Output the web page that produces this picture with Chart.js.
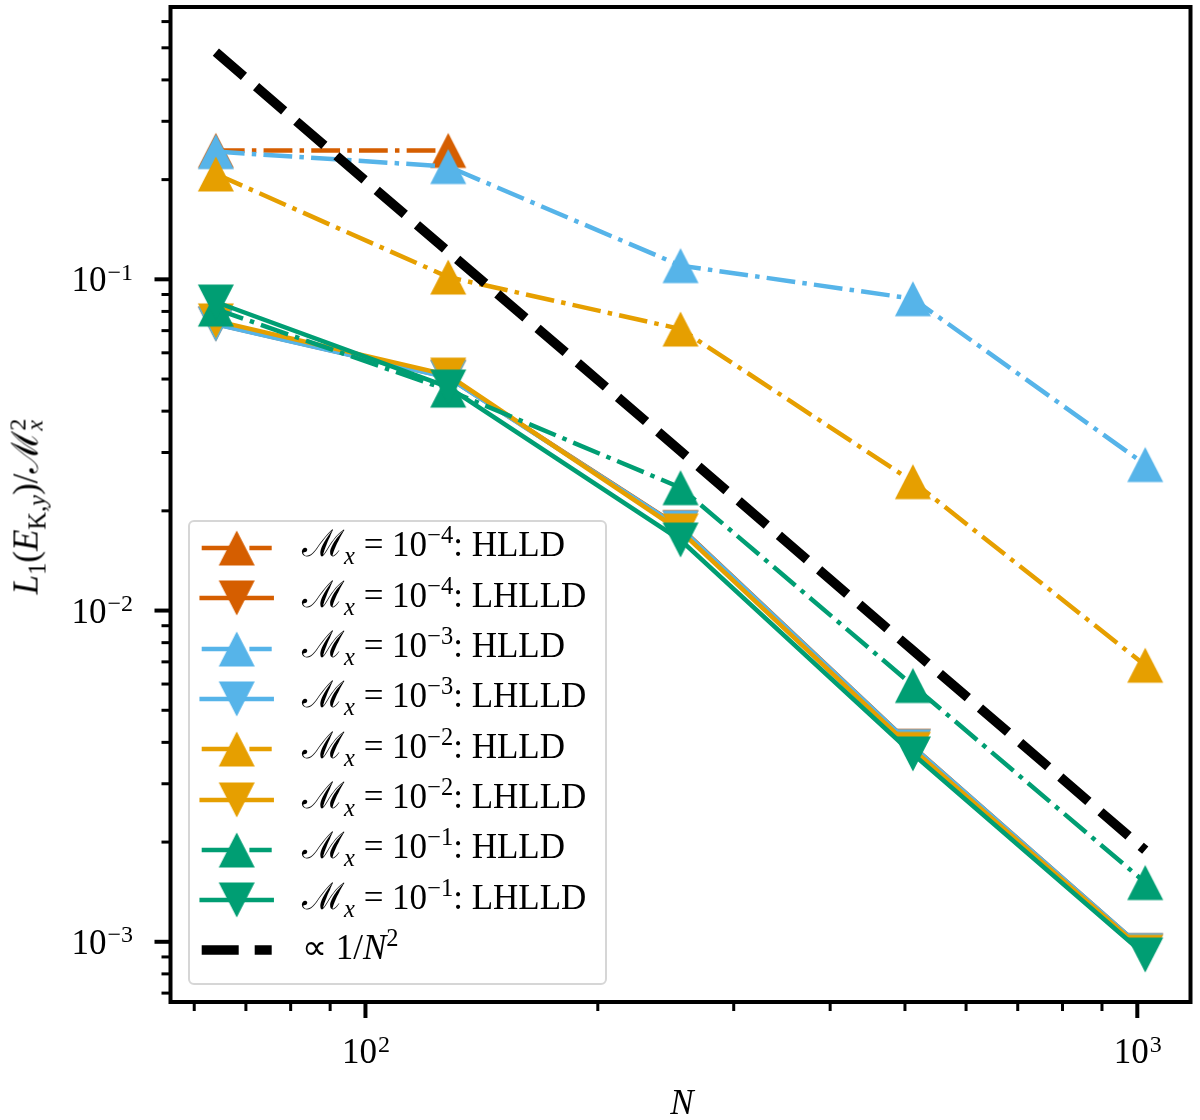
<!DOCTYPE html>
<html>
<head>
<meta charset="utf-8">
<script src="https://cdn.jsdelivr.net/npm/chart.js@4.4.1/dist/chart.umd.min.js"></script>
<style>
  html, body { margin: 0; padding: 0; background: #fff; overflow: hidden; }
  #wrap { position: relative; width: 1200px; height: 1120px; overflow: hidden;
          font-family: "Liberation Serif", "Times New Roman", serif; color: #000; }
  #chart { position: absolute; left: 0; top: 0; }
  .txt { position: absolute; font-size: 35px; line-height: 35px; white-space: nowrap; }
  .txt sub, .txt sup { font-size: 0.7em; line-height: 0; }
  .cal { font-size: 1.05em; line-height: 0; }
  #legendBox { position: absolute; left: 188px; top: 520px; width: 415px; height: 461px;
               border: 2px solid #d6d6d6; border-radius: 6px; background: rgba(255,255,255,0.8); }
  .handle { position: absolute; left: 190px; }
  .ss { position: relative; display: inline-block; width: 16px; height: 35px; }
  .ss .sp, .ss .sb { position: absolute; left: 1px; font-size: 24px; line-height: 24px; }
  .ss .sp { top: 3px; }
  .ss .sb { top: 20px; }
</style>
</head>
<body>
<div id="wrap">
  <canvas id="chart" width="1200" height="1120"></canvas>
  <div id="legendBox"></div>
</div>
<script>
// grid sizes (N) and errors
const N = [64, 128, 256, 512, 1024];

const hlld_m4  = [0.245, 0.245];
const lhlld_m4 = [0.0733, 0.0506, 0.0178, 0.00389, 0.00094];
const hlld_m3  = [0.243, 0.219, 0.110, 0.0874, 0.0276];
const lhlld_m3 = [0.0732, 0.0505, 0.01775, 0.00388, 0.00094];
const hlld_m2  = [0.208, 0.1016, 0.0708, 0.0245, 0.00684];
const lhlld_m2 = [0.0749, 0.0514, 0.01738, 0.00381, 0.00093];
const hlld_m1  = [0.0813, 0.0463, 0.0235, 0.00594, 0.00151];
const lhlld_m1 = [0.0854, 0.0473, 0.01633, 0.00369, 0.000912];
const refN2    = [0.485, 0.1212, 0.0303, 0.00758, 0.00189];

const machExp = ['−4', '−4', '−3', '−3', '−2', '−2', '−1', '−1'];
const solver  = ['HLLD', 'LHLLD', 'HLLD', 'LHLLD', 'HLLD', 'LHLLD', 'HLLD', 'LHLLD'];

// ticks
const xMajor = [100, 1000];
const xMajorExp = ['2', '3'];
const xMinor = [60, 70, 80, 90, 200, 300, 400, 500, 600, 700, 800, 900];
const yMajor = [0.001, 0.01, 0.1];
const yMajorExp = ['−3', '−2', '−1'];
const yMinor = [0.0007, 0.0008, 0.0009, 0.002, 0.003, 0.004, 0.005, 0.006, 0.007, 0.008, 0.009,
                0.02, 0.03, 0.04, 0.05, 0.06, 0.07, 0.08, 0.09, 0.2, 0.3, 0.4, 0.5, 0.6];

const VERM = '#D55E00', BLUE = '#56B4E9', ORNG = '#E69F00', GRN = '#009E73';
const LW = 4.5;
const DASHDOT = [6.4 * LW, 1.6 * LW, LW, 1.6 * LW];
const REFDASH = [37, 16];

function triangle(color, down) {
  const c = document.createElement('canvas');
  c.width = 38; c.height = 38;
  const g = c.getContext('2d');
  g.fillStyle = color;
  g.beginPath();
  if (down) { g.moveTo(19, 36.5); g.lineTo(1, 1.5); g.lineTo(37, 1.5); }
  else { g.moveTo(19, 1.5); g.lineTo(1, 36.5); g.lineTo(37, 36.5); }
  g.closePath();
  g.fill();
  return c;
}

const pts = vals => vals.map((v, i) => ({ x: N[i], y: v }));

const series = [
  { vals: hlld_m4,  color: VERM, down: false },
  { vals: lhlld_m4, color: VERM, down: true },
  { vals: hlld_m3,  color: BLUE, down: false },
  { vals: lhlld_m3, color: BLUE, down: true },
  { vals: hlld_m2,  color: ORNG, down: false },
  { vals: lhlld_m2, color: ORNG, down: true },
  { vals: hlld_m1,  color: GRN,  down: false },
  { vals: lhlld_m1, color: GRN,  down: true }
];

const datasets = series.map((s, k) => {
  s.marker = triangle(s.color, s.down);
  return {
    label: 'M=10' + machExp[k] + ': ' + solver[k],
    data: pts(s.vals),
    borderColor: s.color,
    backgroundColor: s.color,
    borderWidth: LW,
    borderDash: s.down ? [] : DASHDOT,
    borderCapStyle: s.down ? 'square' : 'butt',
    pointStyle: s.marker,
    pointRadius: 18,
    order: 20 - k
  };
});
datasets.push({
  label: '∝ 1/N^2',
  data: pts(refN2),
  borderColor: '#000',
  borderWidth: 9.5,
  borderDash: REFDASH,
  pointRadius: 0,
  order: 1
});

// frame, tick marks and tick labels, placed with the chart's own scales
const axesDeco = {
  id: 'axesDeco',
  afterDraw(chart) {
    const { ctx, chartArea: a, scales: { x, y } } = chart;
    ctx.save();
    ctx.strokeStyle = '#000';
    ctx.fillStyle = '#000';
    const xt = (v, len, w) => {
      const px = x.getPixelForValue(v);
      ctx.lineWidth = w;
      ctx.beginPath(); ctx.moveTo(px, a.bottom); ctx.lineTo(px, a.bottom + len); ctx.stroke();
    };
    const yt = (v, len, w) => {
      const py = y.getPixelForValue(v);
      ctx.lineWidth = w;
      ctx.beginPath(); ctx.moveTo(a.left, py); ctx.lineTo(a.left - len, py); ctx.stroke();
    };
    xMinor.forEach(v => xt(v, 9, 3));
    yMinor.forEach(v => yt(v, 9, 3));
    xMajor.forEach(v => xt(v, 16, 4));
    yMajor.forEach(v => yt(v, 16, 4));

    ctx.lineWidth = 4;
    ctx.strokeRect(a.left, a.top, a.right - a.left, a.bottom - a.top);

    const big = '35px "Liberation Serif"', small = '24px "Liberation Serif"';
    ctx.textBaseline = 'alphabetic';
    xMajor.forEach((v, i) => {
      const px = x.getPixelForValue(v);
      ctx.font = big; const w1 = ctx.measureText('10').width;
      ctx.font = small; const w2 = ctx.measureText(xMajorExp[i]).width;
      const x0 = px - (w1 + w2) / 2;
      ctx.textAlign = 'left';
      ctx.font = big; ctx.fillText('10', x0, a.bottom + 61);
      ctx.font = small; ctx.fillText(xMajorExp[i], x0 + w1 + 1, a.bottom + 50);
    });
    yMajor.forEach((v, i) => {
      const py = y.getPixelForValue(v);
      ctx.textAlign = 'right';
      ctx.font = small; const w2 = ctx.measureText(yMajorExp[i]).width;
      ctx.fillText(yMajorExp[i], 133, py + 0.5);
      ctx.font = big; ctx.fillText('10', 133 - w2 - 1, py + 12);
    });
    ctx.restore();
  }
};

new Chart(document.getElementById('chart'), {
  type: 'line',
  data: { datasets },
  options: {
    responsive: false,
    animation: false,
    events: [],
    layout: { autoPadding: false, padding: { left: 170.5, top: 7, right: 9.5, bottom: 118 } },
    scales: {
      x: { type: 'logarithmic', min: 55.9, max: 1172, display: false },
      y: { type: 'logarithmic', min: 0.000658, max: 0.664, display: false }
    },
    plugins: { legend: { display: false }, tooltip: { enabled: false } }
  },
  plugins: [axesDeco]
});

// legend and axis titles as html text
const wrap = document.getElementById('wrap');
function addText(html, left, top, extra) {
  const d = document.createElement('div');
  d.className = 'txt';
  d.innerHTML = html;
  d.style.left = left + 'px';
  d.style.top = top + 'px';
  if (extra) d.style.transform = extra;
  wrap.appendChild(d);
  return d;
}

const rowY = k => 548 + 50.3 * k;
function addHandle(k, color, dash, width, cap, marker) {
  const c = document.createElement('canvas');
  c.className = 'handle';
  c.width = 90; c.height = 50;
  c.style.top = (rowY(k) - 25) + 'px';
  const g = c.getContext('2d');
  g.strokeStyle = color;
  g.lineWidth = width;
  g.lineCap = cap;
  g.setLineDash(dash);
  g.beginPath(); g.moveTo(11.7, 25); g.lineTo(81.7, 25); g.stroke();
  if (marker) g.drawImage(marker, 46.7 - 19, 25 - 19);
  wrap.appendChild(c);
}

series.forEach((s, k) => {
  addHandle(k, s.color, s.down ? [] : DASHDOT, LW, s.down ? 'square' : 'butt', s.marker);
  addText('<span class="cal">ℳ</span><sub><i>x</i></sub> = 10<sup>' + machExp[k] + '</sup>: ' + solver[k],
          302, rowY(k) - 20.6);
});
addHandle(8, '#000', REFDASH, 9.5, 'butt', null);
addText('∝ 1/<i>N</i><sup>2</sup>', 302, rowY(8) - 20.6);

addText('<i>N</i>', 682, 1102, 'translate(-50%, -50%)');
addText('<i>L</i><sub>1</sub>(<i>E</i><sub>K,<i>y</i></sub>)/<span class="cal">ℳ</span>' +
        '<span class="ss"><span class="sp">2</span><span class="sb"><i>x</i></span></span>',
        23, 505, 'translate(-50%, -50%) rotate(-90deg)');
</script>
</body>
</html>
